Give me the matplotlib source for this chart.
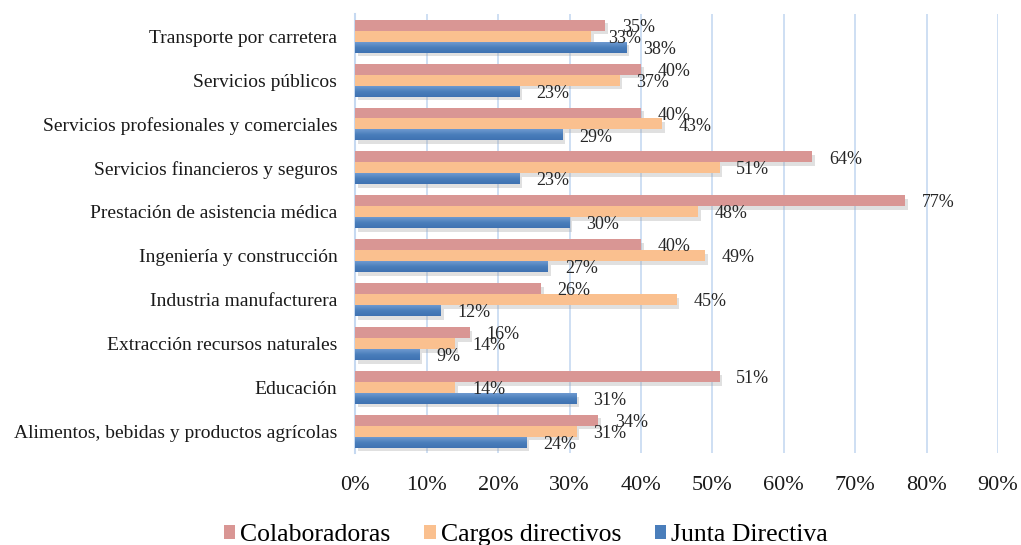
import numpy as np
import matplotlib
matplotlib.use("Agg")
import matplotlib.pyplot as plt
import matplotlib.patheffects as pe
from matplotlib.patches import Patch
from matplotlib.colors import LinearSegmentedColormap

# ── Data ───────────────────────────────────────────────────────────────────────

sectores = [
    "Alimentos, bebidas y productos agrícolas",
    "Educación",
    "Extracción recursos naturales",
    "Industria manufacturera",
    "Ingeniería y construcción",
    "Prestación de asistencia médica",
    "Servicios financieros y seguros",
    "Servicios profesionales y comerciales",
    "Servicios públicos",
    "Transporte por carretera",
]
colaboradoras     = [34, 51, 16, 26, 40, 77, 64, 40, 40, 35]
cargos_directivos = [31, 14, 14, 45, 49, 48, 51, 43, 37, 33]
junta_directiva   = [24, 31, 9, 12, 27, 30, 23, 29, 23, 38]

series = [
    ("Colaboradoras",     colaboradoras,     "#D99694",  0.25),
    ("Cargos directivos", cargos_directivos, "#FAC08F",  0.0),
    ("Junta Directiva",   junta_directiva,   "#4A7EBB", -0.25),
]

plt.rcParams["font.family"] = ["Liberation Serif", "DejaVu Serif"]

fig = plt.figure(figsize=(10.21, 5.45), dpi=100)
ax = fig.add_axes([0.348, 0.168, 0.6295, 0.806])

y = np.arange(len(sectores))
bar_h = 0.25
shadow = [pe.SimplePatchShadow(offset=(2, -2.5), shadow_rgbFace="#9a9a9a", alpha=0.3), pe.Normal()]

# light-to-dark shading for the blue bars
blue_grad = LinearSegmentedColormap.from_list("blue_grad", ["#3F72B2", "#4A7EBB", "#6E9AD0"])
grad = np.linspace(0, 1, 64).reshape(-1, 1)

handles = []
for name, vals, color, off in series:
    bars = ax.barh(y + off, vals, height=bar_h, color=color, zorder=3)
    for b in bars:
        b.set_path_effects(shadow)
        if name == "Junta Directiva":
            x0, y0 = b.get_x(), b.get_y()
            ax.imshow(grad, cmap=blue_grad, aspect="auto", origin="lower", zorder=3.5,
                      extent=(x0, x0 + b.get_width(), y0, y0 + b.get_height()))
    for yy, v in zip(y + off, vals):
        ax.annotate(f"{v}%", (v, yy), xytext=(12, -1.5), textcoords="offset points",
                    va="center", ha="left", fontsize=13, color="#262626", zorder=4)
    handles.append(Patch(facecolor=color, label=name))

ax.set_xlim(0, 90)
ax.set_ylim(-0.5, len(sectores) - 0.5)
ax.set_xticks(np.arange(0, 91, 10))
ax.set_xticklabels([f"{t}%" for t in range(0, 91, 10)], fontsize=16)
ax.set_yticks(y)
ax.set_yticklabels(sectores, fontsize=14)
ax.tick_params(axis="both", length=0, colors="#1a1a1a")
ax.tick_params(axis="x", pad=16)
ax.tick_params(axis="y", pad=13)

ax.grid(axis="x", color="#C6D9F1", linewidth=1.2, zorder=0)
for s in ["top", "right", "bottom"]:
    ax.spines[s].set_visible(False)
ax.spines["left"].set_color("#C6D9F1")
ax.spines["left"].set_linewidth(1.5)

fig.legend(handles=handles, loc="lower center", bbox_to_anchor=(0.515, -0.045), ncol=3,
           frameon=False, fontsize=18.5, handlelength=0.45, handleheight=0.45,
           handletextpad=0.2, columnspacing=1.3)

fig.savefig("out.png", dpi=100)
